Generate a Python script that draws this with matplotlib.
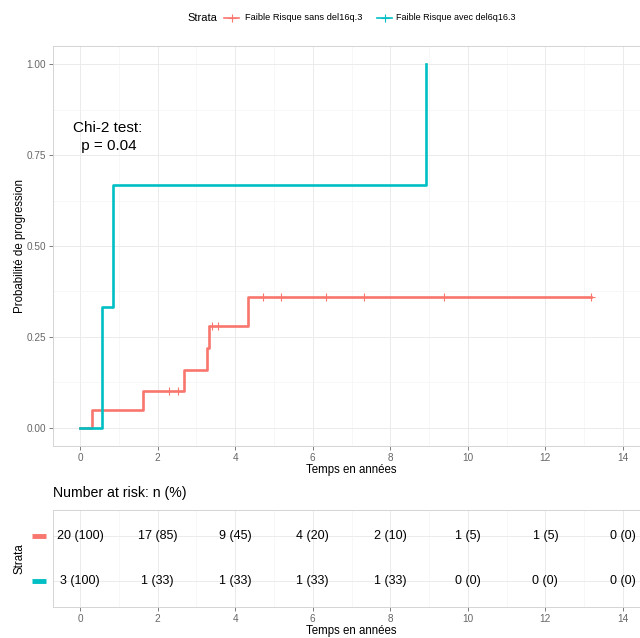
import numpy as np
import matplotlib
matplotlib.use("Agg")
from matplotlib import pyplot as plt
from matplotlib.lines import Line2D
from matplotlib.ticker import MultipleLocator

plt.rcParams['font.family'] = ['Liberation Sans', 'DejaVu Sans']

# Kaplan-Meier steps (cumulative progression)
red_times = [0, 0.30, 1.63, 2.68, 3.26, 3.32, 4.34, 13.19]
red_prog = [0, 0.05, 0.10, 0.16, 0.22, 0.28, 0.36, 0.36]
red_censor = [2.30, 2.53, 3.40, 3.56, 4.72, 5.19, 6.35, 7.33, 9.39, 13.19]

cyan_times = [0, 0.57, 0.85, 8.93]
cyan_prog = [0, 0.333, 0.667, 1.0]

strata = ["Faible Risque sans del16q.3", "Faible Risque avec del6q16.3"]
risk_times = [0, 2, 4, 6, 8, 10, 12, 14]
red_n = [20, 17, 9, 4, 2, 1, 1, 0]
red_pct = [100, 85, 45, 20, 10, 5, 5, 0]
cyan_n = [3, 1, 1, 1, 1, 0, 0, 0]
cyan_pct = [100, 33, 33, 33, 33, 0, 0, 0]

RED = '#F8766D'
CYAN = '#00BFC4'
W, H = 640, 638

def box(l, t, r, b):
    return [l / W, 1 - b / H, (r - l) / W, (b - t) / H]

def fx(x):
    return x / W

def fy(y):
    return 1 - y / H

fig = plt.figure(figsize=(6.4, 6.38), dpi=100)

def style(ax):
    ax.set_xlim(-0.7, 14.7)
    ax.xaxis.set_major_locator(MultipleLocator(2))
    ax.xaxis.set_minor_locator(MultipleLocator(1))
    ax.grid(which='major', color='#ebebeb', lw=0.7)
    ax.grid(which='minor', color='#f4f4f4', lw=0.5)
    ax.set_axisbelow(True)
    for s in ax.spines.values():
        s.set_color('#d4d4d4')
        s.set_linewidth(0.7)
    ax.tick_params(which='major', length=3, width=0.6, color='#666666',
                   labelsize=7.2, labelcolor='#666666', pad=2)
    ax.tick_params(which='minor', length=0)

# main survival panel
ax = fig.add_axes(box(53, 46, 650, 446))
style(ax)
ax.set_ylim(-0.05, 1.05)
ax.yaxis.set_minor_locator(MultipleLocator(0.125))
ax.set_yticks([0, 0.25, 0.5, 0.75, 1.0])
ax.set_yticklabels(['0.00', '0.25', '0.50', '0.75', '1.00'])

ax.step(red_times, red_prog, where='post', color=RED, lw=1.9)
idx = np.searchsorted(red_times, red_censor, side='right') - 1
ax.plot(red_censor, np.array(red_prog)[idx], ls='none', marker='+',
        ms=6, mew=0.8, color=RED)
ax.step(cyan_times, cyan_prog, where='post', color=CYAN, lw=1.9)

ax.text(0.7, 0.80, "Chi-2 test:\n p = 0.04", ha='center', va='center',
        fontsize=11, linespacing=1.35)
ax.set_xlabel("Temps en années", fontsize=8.3, labelpad=1)
ax.set_ylabel("Probabilité de progression", fontsize=8.3, labelpad=0)

# legend at top
ly = fy(18)
fig.text(fx(187), ly, "Strata", fontsize=8, va='center', ha='left')
fig.add_artist(Line2D([fx(224), fx(239)], [ly, ly], color=RED, lw=1.2))
fig.add_artist(Line2D([fx(231.5)], [ly], marker='+', color=RED, ms=6, mew=0.8))
fig.text(fx(245), ly, strata[0], fontsize=6.7, va='center', ha='left')
fig.add_artist(Line2D([fx(377), fx(392)], [ly, ly], color=CYAN, lw=1.2))
fig.add_artist(Line2D([fx(384.5)], [ly], marker='+', color=CYAN, ms=6, mew=0.8))
fig.text(fx(396), ly, strata[1], fontsize=6.5, va='center', ha='left')

# risk table
tab = fig.add_axes(box(53, 510, 650, 607))
style(tab)
tab.set_ylim(0.4, 2.6)
tab.set_yticks([1, 2])
tab.set_yticklabels([])
tab.tick_params(axis='y', length=0)
tab.grid(axis='y', which='major', color='#ebebeb', lw=0.7)
for t, n, p in zip(risk_times, red_n, red_pct):
    tab.text(t, 2, f"{n} ({p})", ha='center', va='center', fontsize=9)
for t, n, p in zip(risk_times, cyan_n, cyan_pct):
    tab.text(t, 1, f"{n} ({p})", ha='center', va='center', fontsize=9)
tab.set_xlabel("Temps en années", fontsize=8.3, labelpad=1)
tab.set_ylabel("Strata", fontsize=8.3, labelpad=18)
trans = tab.get_yaxis_transform()
tab.plot([-0.023], [2], marker='_', ms=10, mew=3.5, color=RED,
         transform=trans, clip_on=False)
tab.plot([-0.023], [1], marker='_', ms=10, mew=3.5, color=CYAN,
         transform=trans, clip_on=False)
fig.text(fx(53), fy(493), "Number at risk: n (%)", fontsize=10.2, va='center', ha='left')

fig.savefig("out.png", dpi=100)
